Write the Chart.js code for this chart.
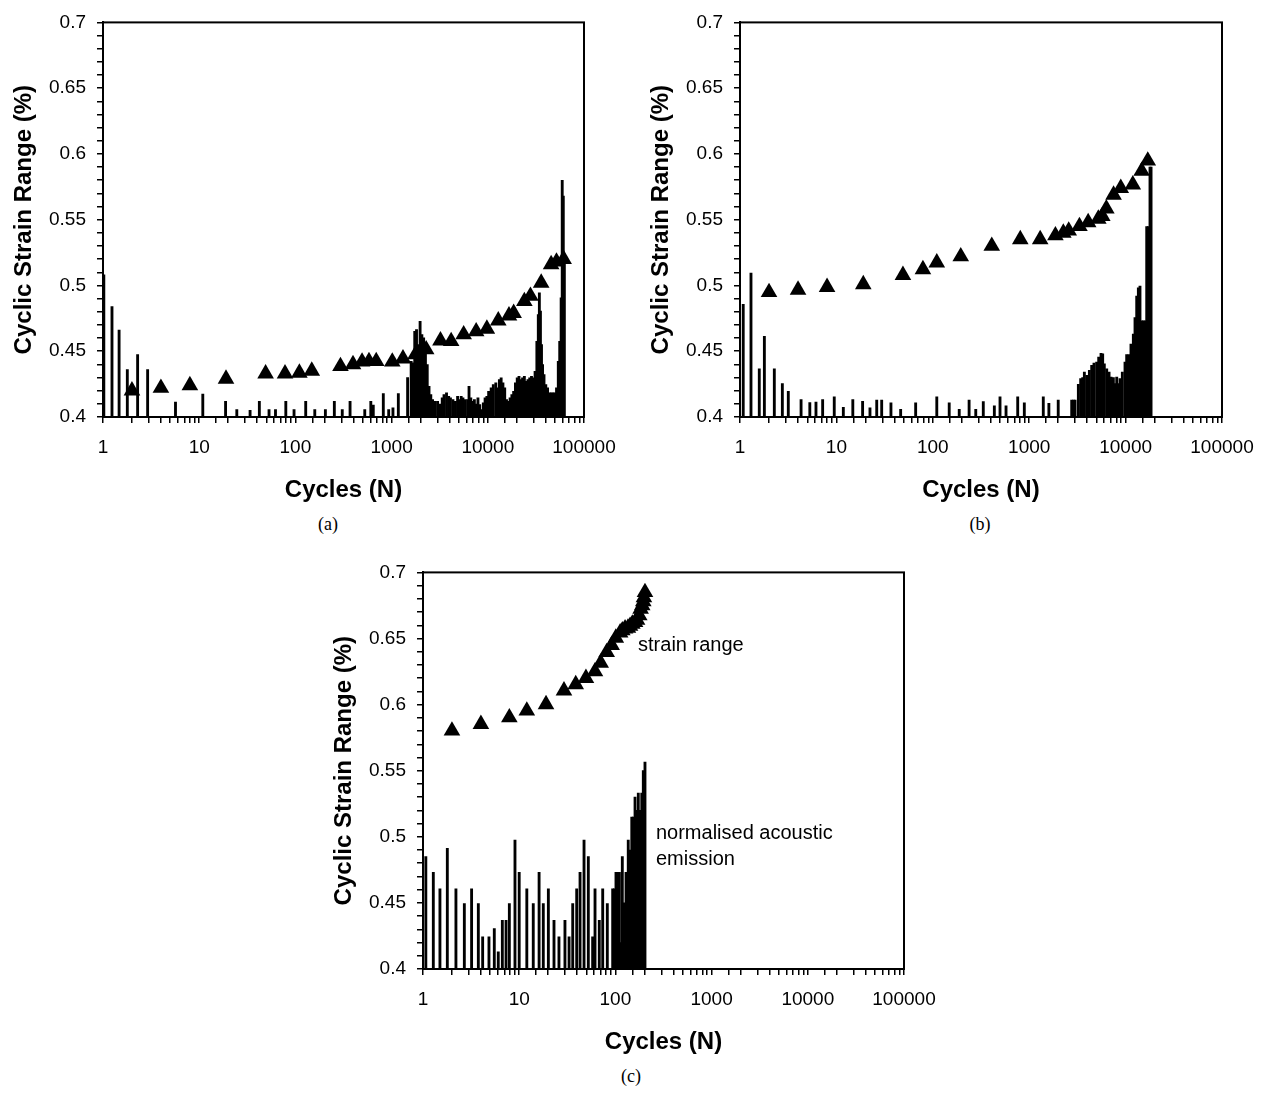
<!DOCTYPE html>
<html>
<head>
<meta charset="utf-8">
<script src="https://cdn.jsdelivr.net/npm/chart.js@4.4.1/dist/chart.umd.min.js"></script>
<style>
  body { margin: 0; background: #fff; }
  #page { position: relative; width: 1269px; height: 1095px; overflow: hidden; }
  canvas { position: absolute; }
  .cap { position: absolute; font: 18px "Liberation Serif", "Times New Roman", serif; color: #000; transform: translate(-50%, -50%); }
</style>
</head>
<body>
<div id="page">
  <canvas id="chartA" width="634" height="506" style="left:0px;top:0px"></canvas>
  <canvas id="chartB" width="632" height="506" style="left:637px;top:0px"></canvas>
  <canvas id="chartC" width="640" height="508" style="left:320px;top:550px"></canvas>
  <div class="cap" style="left:328px;top:524px">(a)</div>
  <div class="cap" style="left:980px;top:524px">(b)</div>
  <div class="cap" style="left:631px;top:1076px">(c)</div>
</div>
<script>
// values, x = cycles (N), y = cyclic strain range (%)

// panel (a)
const strainCyclesA = [2, 4, 8, 19, 49, 78, 110, 148, 294, 397, 493, 582, 692, 1016, 1313, 1770, 2287,
                       3220, 4160, 5610, 7570, 9780, 12850, 16600, 18570, 23990, 27740, 35880, 45530, 51760, 61400];
const strainA = [0.420, 0.422, 0.424, 0.429, 0.433, 0.433, 0.4335, 0.435, 0.4386, 0.440, 0.442, 0.4424, 0.4424, 0.442, 0.4444, 0.4475, 0.4513,
                 0.458, 0.4576, 0.4627, 0.465, 0.467, 0.4733, 0.477, 0.479, 0.488, 0.492, 0.502, 0.516, 0.518, 0.520];
const aeCyclesA = [1.02, 1.24, 1.47, 1.79, 2.29, 2.91, 5.67, 10.9, 18.8, 24.6, 33.8, 42.2, 53.2, 62.1, 79.5, 96.8,
                   128, 159, 205, 254, 307, 370, 526, 608, 645, 820, 933, 1033, 1175, 1467,
                   1597, 1667, 1740, 1816, 1895, 1978, 2064, 2154, 2248, 2347, 2449, 2556, 2668, 2832, 3007, 3166,
                   3360, 3507, 3723, 3920, 4090, 4342, 4609, 4853, 5022, 5286, 5516, 5855, 6217, 6380, 6658, 6950,
                   7252, 7568, 7898, 8245, 8604, 8979, 9371, 9779, 10206, 10836, 11408, 12113, 12640, 13192, 13765,
                   14367, 14993, 15648, 16334, 17046, 17791, 18565, 19377, 20224, 21103, 22029, 22987, 23993, 25044,
                   26134, 27276, 28463, 29709, 31007, 32359, 33488, 34356, 35254, 36169, 37104, 38397, 40069, 41817,
                   43652, 45551, 47547, 49615, 51809, 54036, 55922, 57863, 59370, 60915, 62503];
const aeA = [0.508, 0.484, 0.466, 0.436, 0.4475, 0.436, 0.4114, 0.4175, 0.412, 0.4056, 0.405, 0.412, 0.4056, 0.4056, 0.412, 0.4056,
             0.412, 0.4056, 0.4056, 0.412, 0.4056, 0.412, 0.4056, 0.412, 0.409, 0.4178, 0.4056, 0.407, 0.4178, 0.430,
             0.4424, 0.4411, 0.4652, 0.4665, 0.4551, 0.4728, 0.4627, 0.4602, 0.4551, 0.4398, 0.4234, 0.417, 0.4132, 0.4119, 0.4119, 0.4099,
             0.4145, 0.417, 0.4183, 0.4157, 0.4145, 0.4132, 0.4119, 0.4157, 0.4132, 0.4157, 0.4145, 0.4132, 0.4132, 0.4234, 0.4145, 0.4119,
             0.4132, 0.4099, 0.4145, 0.4094, 0.4056, 0.4107, 0.4145, 0.4157, 0.4195, 0.4221, 0.4246, 0.4259, 0.4221, 0.4284, 0.4297,
             0.4259, 0.4221, 0.4132, 0.4119, 0.4145, 0.417, 0.4195, 0.4259, 0.4297, 0.431, 0.4284, 0.4297, 0.431, 0.4272,
             0.4284, 0.4297, 0.431, 0.4297, 0.4348, 0.4576, 0.4779, 0.4944, 0.4805, 0.4551, 0.4398, 0.4322, 0.4246, 0.4221,
             0.4183, 0.4183, 0.4183, 0.4183, 0.4221, 0.4424, 0.4576, 0.4906, 0.580, 0.568, 0.520];

// panel (b)
const strainCyclesB = [2, 4, 8, 19, 49, 79, 110, 195, 409, 808, 1300, 1870, 2260, 2570, 3320, 4090, 5210, 5730,
                       6310, 7500, 8910, 11880, 14680, 16980];
const strainB = [0.4948, 0.4966, 0.4987, 0.5008, 0.5078, 0.5122, 0.5174, 0.522, 0.530, 0.535, 0.535, 0.538, 0.540, 0.5416,
                 0.545, 0.548, 0.5506, 0.5527, 0.5584, 0.5688, 0.574, 0.5766, 0.587, 0.5948];
const aeCyclesB = [1.08, 1.30, 1.585, 1.79, 2.27, 2.75, 3.17, 4.3, 5.3, 6.14, 7.2, 9.5, 11.8, 14.8, 18.7, 22.3, 26.2, 29.5,
                   36.8, 46.4, 66.4, 110, 148, 188, 238, 279, 334, 435, 498, 575, 760, 890, 1400, 1600, 2000, 2760, 2880, 2990,
                   3235, 3420, 3590, 3735, 3955, 4210, 4450, 4700, 5010, 5260, 5560, 5785, 6015, 6370, 6735, 7060, 7465,
                   7770, 8090, 8400, 8750, 9250, 9860, 10260, 10840, 11370, 12030, 12520, 13040, 13560, 14100, 14690,
                   15280, 15890, 16560, 17220, 17910, 18370];
const aeB = [0.4857, 0.5095, 0.4367, 0.4613, 0.4367, 0.4254, 0.4196, 0.4133, 0.411, 0.4113, 0.4133, 0.4153, 0.4073, 0.4133, 0.412, 0.407, 0.4128, 0.4128,
             0.4108, 0.4058, 0.4108, 0.4153, 0.4108, 0.4058, 0.4128, 0.4058, 0.4118, 0.4085, 0.4153, 0.4085, 0.4153, 0.4108, 0.4153, 0.4103, 0.4128, 0.4128, 0.4128, 0.4128,
             0.4249, 0.4292, 0.4299, 0.4342, 0.4317, 0.4354, 0.4392, 0.4410, 0.4417, 0.4455, 0.4485, 0.448, 0.4405, 0.4367, 0.4342, 0.4304, 0.4299,
             0.4254, 0.4304, 0.4254, 0.4292, 0.4342, 0.4417, 0.4475, 0.4475, 0.4555, 0.4631, 0.4756, 0.4920, 0.4982, 0.4995, 0.4731,
             0.4731, 0.4731, 0.5447, 0.5447, 0.590, 0.590];

// panel (c)
const strainCyclesC = [2, 4, 7.9, 12, 19, 29.2, 38.7, 49.4, 61.3, 70.3, 81.2, 91.4, 101, 112, 118, 126, 135, 142, 150,
                       160, 168, 177, 183, 190, 195, 198, 203];
const strainC = [0.5802, 0.5852, 0.5902, 0.5953, 0.6002, 0.6105, 0.6153, 0.620, 0.625, 0.6315, 0.6396, 0.645, 0.6504, 0.6544, 0.656, 0.6574, 0.658, 0.6594, 0.661,
                 0.6624, 0.664, 0.6674, 0.6724, 0.675, 0.678, 0.681, 0.685];
const aeCyclesC = [1.07, 1.28, 1.5, 1.79, 2.2, 2.69, 3.2, 3.76, 4.17, 4.85, 5.51, 6.06, 6.68, 7.3, 7.9, 9.04, 10, 12, 14, 16.1,
                   17.8, 20.1, 23, 25.9, 29.9, 33, 36, 39.6, 42.9, 47.2, 52.3, 58, 61.4, 68, 73.8, 82.4,
                   93.7, 97.6, 101.4, 105.6, 110, 114.4, 118, 124, 129, 136, 142, 148, 154, 160, 166, 173, 180, 188, 195, 203];
const aeC = [0.485, 0.4732, 0.4607, 0.4912, 0.4607, 0.4494, 0.4607, 0.4494, 0.4243, 0.4243, 0.4306, 0.413, 0.4368, 0.4368, 0.4494, 0.4975, 0.4732, 0.4607, 0.4494, 0.4732,
             0.4494, 0.4607, 0.4368, 0.4243, 0.4368, 0.4243, 0.4494, 0.4607, 0.4732, 0.4975, 0.485, 0.4243, 0.4607, 0.4368, 0.4607, 0.4494,
             0.4607, 0.4607, 0.4732, 0.4732, 0.4732, 0.420, 0.485, 0.450, 0.4732, 0.4975, 0.490, 0.515, 0.515, 0.530, 0.520, 0.533, 0.520, 0.533, 0.550, 0.5565];

const xTickLabels = [1, 10, 100, 1000, 10000, 100000];
const yTickLabels = [0.4, 0.45, 0.5, 0.55, 0.6, 0.65, 0.7];

Chart.defaults.font.family = '"Liberation Sans", Arial, sans-serif';
Chart.defaults.color = '#000';

// closes the box round the plot (top and right sides)
const framePlugin = {
    id: 'frame',
    afterDraw(chart) {
        const { ctx, chartArea: a } = chart;
        ctx.save();
        ctx.strokeStyle = '#000';
        ctx.lineWidth = 2;
        ctx.strokeRect(a.left, a.top, a.right - a.left, a.bottom - a.top);
        ctx.restore();
    }
};

// the two text notes in panel (c), placed in data units
const notesPlugin = {
    id: 'notes',
    afterDraw(chart) {
        const { ctx, scales } = chart;
        ctx.save();
        ctx.fillStyle = '#000';
        ctx.font = '20px "Liberation Sans", Arial, sans-serif';
        ctx.textBaseline = 'middle';
        ctx.fillText('strain range', scales.x.getPixelForValue(172), scales.y.getPixelForValue(0.6444));
        ctx.fillText('normalised acoustic', scales.x.getPixelForValue(264), scales.y.getPixelForValue(0.5023));
        ctx.fillText('emission', scales.x.getPixelForValue(264), scales.y.getPixelForValue(0.4827));
        ctx.restore();
    }
};

function points(xs, ys) {
    return xs.map((x, i) => ({ x: x, y: ys[i] }));
}

function makeChart(id, strainX, strainY, aeX, aeY, pad, extraPlugins) {
    const ctx = document.getElementById(id).getContext('2d');
    return new Chart(ctx, {
        type: 'bar',
        data: {
            datasets: [{
                type: 'scatter',
                label: 'strain range',
                data: points(strainX, strainY),
                pointStyle: 'triangle',
                pointRadius: 9.6,
                backgroundColor: '#000',
                borderWidth: 0
            }, {
                type: 'bar',
                label: 'normalised acoustic emission',
                data: points(aeX, aeY),
                backgroundColor: '#000',
                barThickness: 2.2,
                grouped: false
            }]
        },
        options: {
            responsive: false,
            animation: false,
            devicePixelRatio: 1,
            layout: { padding: pad },
            plugins: { legend: { display: false }, tooltip: { enabled: false } },
            scales: {
                x: {
                    type: 'logarithmic',
                    min: 1,
                    max: 100000,
                    offset: false,
                    grid: { offset: false, drawOnChartArea: false, drawTicks: true, tickLength: 6, color: '#000', lineWidth: 1.5 },
                    border: { display: true, color: '#000', width: 2 },
                    ticks: {
                        autoSkip: false,
                        maxRotation: 0,
                        padding: 13,
                        font: { size: 19 },
                        callback: (v) => xTickLabels.includes(v) ? String(v) : ''
                    },
                    title: { display: true, text: 'Cycles (N)', font: { size: 24, weight: 'bold' }, padding: { top: 0, bottom: 1 } },
                    afterFit: (scale) => { scale.height = 89; }
                },
                y: {
                    type: 'linear',
                    min: 0.4,
                    max: 0.7,
                    grid: { drawOnChartArea: false, drawTicks: true, tickLength: 6, color: '#000', lineWidth: 1.5 },
                    border: { display: true, color: '#000', width: 2 },
                    ticks: {
                        stepSize: 0.01,
                        maxTicksLimit: 40,
                        autoSkip: false,
                        padding: 11,
                        font: { size: 19 },
                        callback: (v) => {
                            const r = Math.round(v * 100) / 100;
                            return yTickLabels.includes(r) ? String(r) : '';
                        }
                    },
                    title: { display: true, text: 'Cyclic Strain Range (%)', font: { size: 24, weight: 'bold' }, padding: { top: 10, bottom: 0 } },
                    afterFit: (scale) => { scale.width = 103; }
                }
            }
        },
        plugins: [framePlugin].concat(extraPlugins)
    });
}

document.addEventListener('DOMContentLoaded', function () {
    makeChart('chartA', strainCyclesA, strainA, aeCyclesA, aeA, { top: 19, right: 50, left: 0, bottom: 0 }, []);
    makeChart('chartB', strainCyclesB, strainB, aeCyclesB, aeB, { top: 19, right: 47, left: 0, bottom: 0 }, []);
    makeChart('chartC', strainCyclesC, strainC, aeCyclesC, aeC, { top: 20, right: 56, left: 0, bottom: 0 }, [notesPlugin]);
});
</script>
</body>
</html>
